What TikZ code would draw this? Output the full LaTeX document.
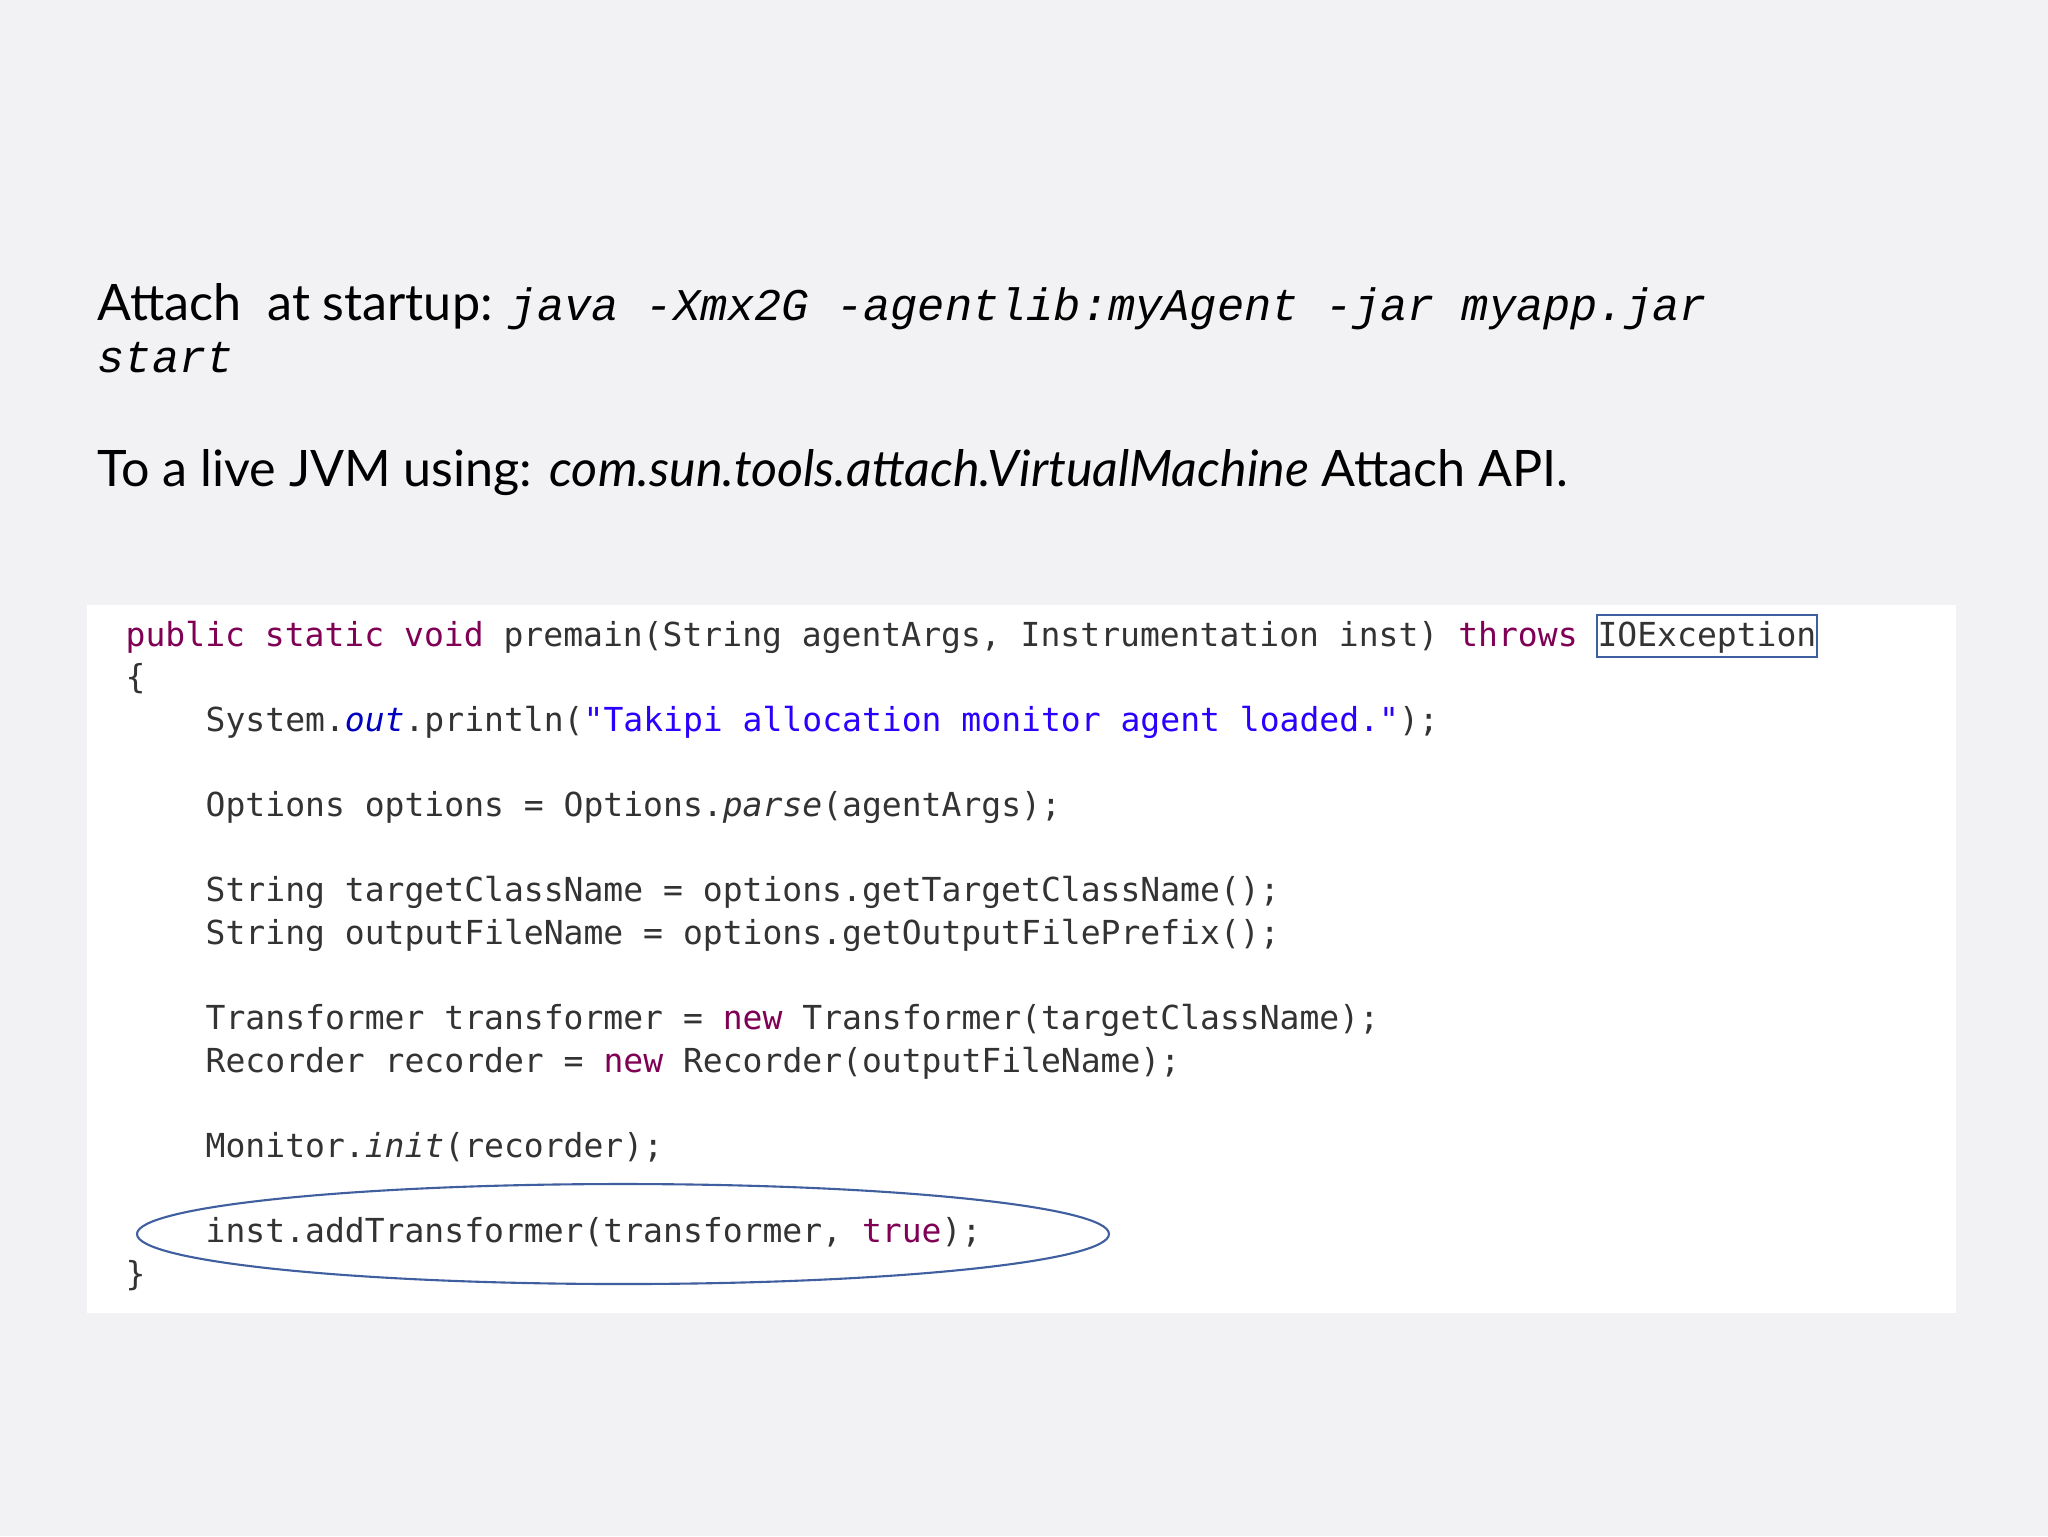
\documentclass[tikz,border=0pt]{standalone}
\usepackage{fontspec}
\setmainfont{Lato}
\newfontfamily\codefont{DejaVu Sans Mono}
\newfontfamily\cmdfont{Liberation Mono}
\definecolor{bg}{HTML}{F2F2F4}
\definecolor{kw}{HTML}{7F0055}
\definecolor{str}{HTML}{2A00FF}
\definecolor{fld}{HTML}{0000C0}
\definecolor{ring}{HTML}{3F5F9F}
\tikzset{
  para/.style={anchor=base west,inner sep=0pt,font=\fontsize{14.3}{17}\selectfont},
  code/.style={anchor=base west,inner sep=0pt,font=\codefont\fontsize{9.4}{11}\selectfont,text=black!80},
}
\newcommand{\kwd}[1]{\textcolor{kw}{#1}}
\newcommand{\cmdi}[1]{{\cmdfont\itshape\fontsize{12.9}{15}\selectfont #1}}
\begin{document}
\begin{tikzpicture}[x=0.1mm,y=-0.1mm]
\fill[bg] (0,0) rectangle (2048,1536);
\useasboundingbox (0,0) rectangle (2048,1536);
\node[para] (t1) at (97,320) {Attach\ \ at startup: \cmdi{java -Xmx2G -agentlib:myAgent -jar myapp.jar}};
\node[para] (t2) at (97,372) {\cmdi{start}};
\node[para] (t3) at (97,486) {To a live JVM using: \textit{com.sun.tools.attach.VirtualMachine} Attach API.};
\fill[white] (87,605) rectangle (1956,1313);
\node[code] (c1) at (125,646) {\kwd{public static void} premain(String agentArgs, Instrumentation inst) \kwd{throws} IOException};
\draw[ring,line width=0.8pt] (1597,615) rectangle (1817,657);
\node[code] (c2) at (125,688) {\{};
\node[code] (c3) at (205,731) {System.\textcolor{fld}{\itshape out}.println(\textcolor{str}{"Takipi allocation monitor agent loaded."});};
\node[code] (c4) at (205,816) {Options options = Options.\textit{parse}(agentArgs);};
\node[code] (c5) at (205,901) {String targetClassName = options.getTargetClassName();};
\node[code] (c6) at (205,944) {String outputFileName = options.getOutputFilePrefix();};
\node[code] (c7) at (205,1029) {Transformer transformer = \kwd{new} Transformer(targetClassName);};
\node[code] (c8) at (205,1072) {Recorder recorder = \kwd{new} Recorder(outputFileName);};
\node[code] (c9) at (205,1157) {Monitor.\textit{init}(recorder);};
\node[code] (c10) at (205,1242) {inst.addTransformer(transformer, \kwd{true});};
\node[code] (c11) at (125,1285) {\}};
\draw[ring,line width=0.6pt] (623,1234) ellipse [x radius=486,y radius=50];
\end{tikzpicture}
\end{document}
